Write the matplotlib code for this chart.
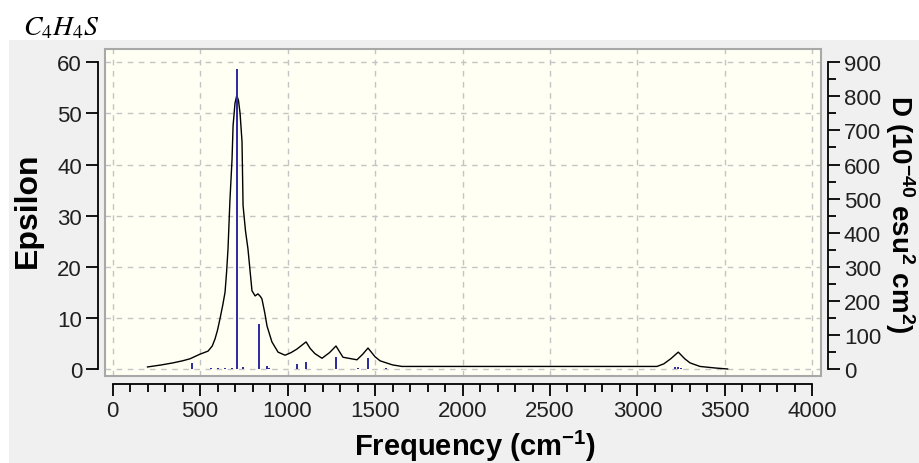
import matplotlib
matplotlib.use("Agg")
import matplotlib.pyplot as plt
from matplotlib.patches import Rectangle
from matplotlib.ticker import MultipleLocator

# ---- data ----
curve_freq = [200, 280, 346, 400, 443, 500, 546, 570, 586, 600, 614, 630, 643, 652, 660, 671, 683,
              689, 700, 710, 720, 729, 740, 746, 760, 774, 797, 815, 831, 845, 854, 870, 883, 911,
              946, 986, 1020, 1054, 1106, 1130, 1157, 1197, 1240, 1277, 1317, 1397, 1430, 1460,
              1500, 1529, 1600, 1654, 1700, 3100, 3111, 3150, 3190, 3233, 3270, 3300, 3357,
              3443, 3515]
curve_eps = [0.4, 0.8, 1.2, 1.6, 2.0, 2.9, 3.5, 4.5, 5.9, 7.6, 9.8, 12.5, 15.0, 19.0, 23.5, 33.0,
             41.0, 47.6, 52.0, 53.5, 52.5, 50.0, 44.5, 32.0, 27.0, 23.5, 15.3, 14.3, 14.7, 14.2,
             13.7, 11.0, 8.4, 5.3, 3.3, 2.7, 3.2, 3.9, 5.3, 4.0, 3.0, 2.1, 3.2, 4.5, 2.3, 1.8,
             2.9, 4.1, 2.4, 1.6, 0.8, 0.5, 0.5, 0.5, 0.5, 1.0, 2.0, 3.3, 2.0, 1.2, 0.5, 0.2, 0.0]

stick_freq = [453, 560, 600, 640, 683, 710, 746, 837, 881, 895, 1052, 1106, 1277, 1403, 1460,
              1563, 3215, 3232, 3250]
stick_D = [18, 2, 3, 2, 3, 880, 6, 133, 10, 4, 14, 21, 36, 4, 31, 3, 5, 6, 4]

x_ticks = [0, 500, 1000, 1500, 2000, 2500, 3000, 3500, 4000]
eps_ticks = [0, 10, 20, 30, 40, 50, 60]
d_ticks = [0, 100, 200, 300, 400, 500, 600, 700, 800, 900]

title = r"$C_4H_4S$"
xlabel = r"Frequency (cm$^{-1}$)"
ylabel_left = "Epsilon"
ylabel_right = r"D (10$^{-40}$ esu$^{2}$ cm$^{2}$)"

# ---- style ----
plt.rcParams["font.family"] = ["Liberation Sans", "DejaVu Sans"]
plt.rcParams["mathtext.fontset"] = "custom"
plt.rcParams["mathtext.rm"] = "Liberation Sans:bold"
plt.rcParams["mathtext.it"] = "Liberation Sans:bold"
plt.rcParams["mathtext.bf"] = "Liberation Sans:bold"

W, H = 920, 464
fig = plt.figure(figsize=(W / 100, H / 100), dpi=100, facecolor="white")
fig.patches.append(Rectangle((9 / W, 0), 1, (H - 41) / H, transform=fig.transFigure,
                             facecolor="#f0f0f0", edgecolor="none", zorder=-10))

left, right, top, bottom = 105, 821, 50, 377
ax = fig.add_axes([left / W, (H - bottom) / H, (right - left) / W, (bottom - top) / H])
ax.set_facecolor("#fffff4")
ax.set_xlim(-42.9, 4048.6)
ax.set_ylim(-1.37, 62.6)

ax.add_patch(Rectangle((0, 0), 1, 1, transform=ax.transAxes, fill=False,
                       edgecolor="#a8a8a8", linewidth=1.5, clip_on=False, zorder=5))

for xv in x_ticks:
    ax.axvline(xv, color="#c4c4c4", linestyle=(0, (4, 4)), linewidth=1.0, zorder=0)
for yv in eps_ticks:
    ax.axhline(yv, color="#c4c4c4", linestyle=(0, (4, 4)), linewidth=1.0, zorder=0)

ax.plot(curve_freq, curve_eps, color="black", linewidth=1.0, zorder=3)

for s in ["top", "right"]:
    ax.spines[s].set_visible(False)
ax.spines["left"].set_position(("outward", 5))
ax.spines["left"].set_bounds(0, 60)
ax.spines["bottom"].set_position(("outward", 6))
ax.spines["bottom"].set_bounds(0, 4000)
for s in ["left", "bottom"]:
    ax.spines[s].set_linewidth(1.3)

ax.set_xticks(x_ticks)
ax.xaxis.set_minor_locator(MultipleLocator(100))
ax.set_yticks(eps_ticks)
ax.tick_params(axis="both", which="major", direction="out", length=8.5, width=1.3,
               labelsize=16, colors="black", labelcolor="#202020", pad=3)
ax.tick_params(axis="x", which="minor", direction="out", length=5.5, width=1.3)

ax2 = ax.twinx()
ax2.set_ylim(-1.37 * 15, 62.6 * 15)
ax2.patch.set_visible(False)
ax2.vlines(stick_freq, 0, stick_D, color="#2a2aa0", linewidth=1.4, zorder=4)
for s in ["top", "left", "bottom"]:
    ax2.spines[s].set_visible(False)
ax2.spines["right"].set_position(("outward", 5))
ax2.spines["right"].set_bounds(0, 900)
ax2.spines["right"].set_linewidth(1.3)
ax2.set_yticks(d_ticks)
ax2.yaxis.set_minor_locator(MultipleLocator(50))
ax2.tick_params(axis="y", which="major", direction="out", length=8.5, width=1.3,
                labelsize=16, labelcolor="#202020", pad=3)
ax2.tick_params(axis="y", which="minor", direction="out", length=5.5, width=1.3)

fig.text(475 / W, 1 - 446 / H, xlabel, fontsize=21, fontweight="bold",
         ha="center", va="center")
fig.text(28 / W, 1 - 210 / H, ylabel_left, fontsize=23, fontweight="bold",
         ha="center", va="center", rotation=90)
fig.text(900 / W, 1 - 214 / H, ylabel_right, fontsize=20, fontweight="bold",
         ha="center", va="center", rotation=270)
fig.text(23 / W, 1 - 35 / H, title, fontsize=20, math_fontfamily="stix",
         ha="left", va="baseline")

fig.savefig("out.png", dpi=100)
